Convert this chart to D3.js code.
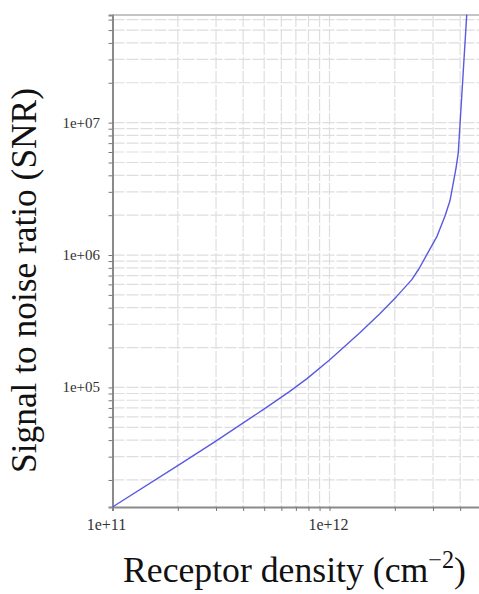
<!DOCTYPE html>
<html>
<head>
<meta charset="utf-8">
<script src="https://cdn.jsdelivr.net/npm/d3@7/dist/d3.min.js"></script>
<style>
  html, body { margin: 0; padding: 0; background: #fff; }
  svg { display: block; }
</style>
</head>
<body>
<svg id="chart" width="479" height="594"></svg>
<script>
// Receptor density (cm^-2)
const densities = [1e11, 1.99e11, 2.97e11, 4.95e11, 6.51e11, 7.85e11, 1e12, 1.38e12, 1.71e12, 2.04e12, 2.39e12, 2.59e12, 2.8e12, 3.12e12, 3.41e12, 3.59e12, 3.72e12, 3.83e12, 3.92e12, 4.29e12];
// Signal to noise ratio
const snrValues = [1.25e4, 2.555e4, 3.9e4, 6.8e4, 9.25e4, 1.16e5, 1.61e5, 2.59e5, 3.62e5, 4.87e5, 6.49e5, 7.91e5, 9.98e5, 1.37e6, 1.98e6, 2.57e6, 3.51e6, 4.56e6, 5.89e6, 6.54e7];
const xTickValues = [1e11, 1e12];
const xTickLabels = ["1e+11", "1e+12"];
const yTickValues = [1e5, 1e6, 1e7];
const yTickLabels = ["1e+05", "1e+06", "1e+07"];
const xDomain = [1e11, 5e12];
const yDomain = [1.25e4, 6.5e7];

const svg = d3.select("#chart");
const pLeft = 112.5, pTop = 15, pBottom = 507;
const pRight = pLeft + 217 * Math.log10(xDomain[1] / xDomain[0]);

const x = d3.scaleLog().domain(xDomain).range([pLeft, pRight]);
const y = d3.scaleLog().domain(yDomain).range([pBottom, pTop]);

// minor grid values
const xGrid = [];
for (let d = 1e11; d <= 1e12; d *= 10)
  for (let m = 1; m <= 9; m++) { const v = m * d; if (v >= xDomain[0] && v <= xDomain[1]) xGrid.push(v); }
const yGrid = [];
for (let d = 1e4; d <= 1e7; d *= 10)
  for (let m = 1; m <= 9; m++) { const v = m * d; if (v >= yDomain[0] && v <= yDomain[1]) yGrid.push(v); }

const grid = svg.append("g");
grid.selectAll("line.vg").data(xGrid).join("line")
  .attr("x1", d => x(d)).attr("x2", d => x(d))
  .attr("y1", pTop).attr("y2", pBottom)
  .attr("stroke", "#dedede").attr("stroke-width", 1.2)
  .attr("stroke-dasharray", "12,2");
grid.selectAll("line.hg").data(yGrid).join("line")
  .attr("x1", pLeft).attr("x2", pRight)
  .attr("y1", d => y(d)).attr("y2", d => y(d))
  .attr("stroke", "#dedede").attr("stroke-width", 1.2)
  .attr("stroke-dasharray", "12,2");

// top border
svg.append("line").attr("x1", pLeft).attr("x2", pRight).attr("y1", pTop).attr("y2", pTop)
  .attr("stroke", "#c4c4c4").attr("stroke-width", 2);

// axes
const xAxis = d3.axisBottom(x).tickValues(xGrid).tickSize(4).tickFormat("");
const gx = svg.append("g").attr("transform", `translate(0,${pBottom})`).call(xAxis);
gx.select(".domain").attr("stroke", "#8a8a8a").attr("stroke-width", 2);
gx.selectAll(".tick line").attr("stroke", "#777");

const yAxis = d3.axisLeft(y).tickValues(yGrid).tickSize(4).tickFormat("");
const gy = svg.append("g").attr("transform", `translate(${pLeft},0)`).call(yAxis);
gy.select(".domain").attr("stroke", "#8a8a8a").attr("stroke-width", 2);
gy.selectAll(".tick line").attr("stroke", "#777");

// tick labels
svg.append("g").selectAll("text").data(xTickValues).join("text")
  .attr("x", (d, i) => x(d) - (i === 0 ? 6 : 1)).attr("y", 530)
  .attr("text-anchor", "middle")
  .attr("font-family", "Liberation Serif, serif").attr("font-size", 16)
  .attr("fill", "#333")
  .text((d, i) => xTickLabels[i]);

svg.append("g").selectAll("text").data(yTickValues).join("text")
  .attr("x", 100).attr("y", d => y(d) + 5)
  .attr("text-anchor", "end")
  .attr("font-family", "Liberation Serif, serif").attr("font-size", 15)
  .attr("fill", "#333")
  .text((d, i) => yTickLabels[i]);

// line
const pts = densities.map((d, i) => [d, snrValues[i]]);
svg.append("path").datum(pts)
  .attr("fill", "none").attr("stroke", "#5a5ae0").attr("stroke-width", 1.4)
  .attr("stroke-linejoin", "round")
  .attr("d", d3.line().x(d => x(d[0])).y(d => y(d[1])));

// axis titles
const base = 30;
const xt = svg.append("text").attr("x", 294.5).attr("y", 582)
  .attr("text-anchor", "middle")
  .attr("font-family", "Liberation Serif, serif").attr("font-size", base)
  .attr("fill", "#111");
xt.append("tspan").text("Receptor density (cm");
const sup = xt.append("tspan").attr("font-size", base * 0.68).attr("dy", -base * 0.4).text("\u22122");
const close = xt.append("tspan").attr("dy", base * 0.4).text(")");
{
  const w = xt.node().getBBox().width;
  const fs = base * 343 / w;
  xt.attr("font-size", fs);
  sup.attr("font-size", fs * 0.68).attr("dy", -fs * 0.4);
  close.attr("dy", fs * 0.4);
}

const yt = svg.append("text")
  .attr("transform", "translate(36,280.5) rotate(-90)")
  .attr("text-anchor", "middle")
  .attr("font-family", "Liberation Serif, serif").attr("font-size", base)
  .attr("fill", "#111")
  .text("Signal to noise ratio (SNR)");
{
  const w = yt.node().getBBox().width;
  yt.attr("font-size", base * 385 / w);
}
</script>
</body>
</html>
